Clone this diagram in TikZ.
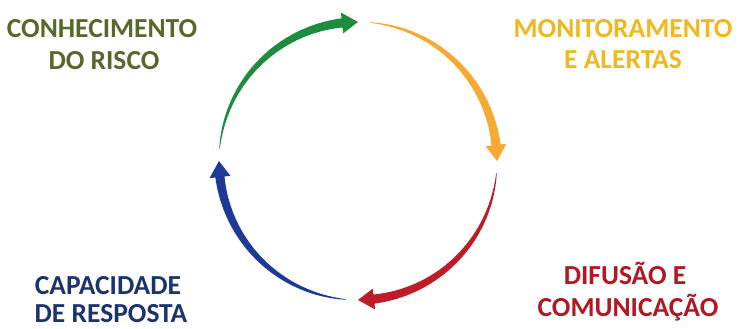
\documentclass[tikz,border=0pt]{standalone}
\usepackage{fontspec}
\setmainfont{Carlito}
\definecolor{cgreen}{RGB}{30,140,62}
\definecolor{corange}{RGB}{245,170,52}
\definecolor{cred}{RGB}{190,28,40}
\definecolor{cblue}{RGB}{30,58,150}
\definecolor{tgreen}{RGB}{88,104,42}
\definecolor{tyellow}{RGB}{238,184,30}
\definecolor{tred}{RGB}{178,24,36}
\definecolor{tblue}{RGB}{28,52,110}
\tikzset{lbl/.style={anchor=base,inner sep=0pt,font=\fontsize{27.5}{32}\selectfont\bfseries}}
\newcommand\taparrow[3]{% colour, start angle, tip angle (clockwise)
  \pgfmathsetmacro\hb{#3+6.6}
  \fill[#1] plot[domain=#2:\hb,samples=60,variable=\t]
      ({\cx+(\rr+0.2+4.4*((#2-\t)/(#2-\hb))^0.8)*cos(\t)},{\cy+(\rr+0.2+4.4*((#2-\t)/(#2-\hb))^0.8)*sin(\t)})
    -- ({\cx+(\rr+10.5)*cos(\hb)},{\cy+(\rr+10.5)*sin(\hb)})
    -- ({\cx+\rr*cos(#3)},{\cy+\rr*sin(#3)})
    -- ({\cx+(\rr-10.5)*cos(\hb)},{\cy+(\rr-10.5)*sin(\hb)})
    -- plot[domain=\hb:#2,samples=60,variable=\t]
      ({\cx+(\rr-0.2-4.4*((#2-\t)/(#2-\hb))^0.8)*cos(\t)},{\cy+(\rr-0.2-4.4*((#2-\t)/(#2-\hb))^0.8)*sin(\t)})
    -- cycle;
}
\begin{document}
\begin{tikzpicture}[x=1pt,y=1pt]
\useasboundingbox (0,0) rectangle (740,329);
\def\cx{358}\def\cy{168}\def\rr{139}
\taparrow{cgreen}{175}{90}
\taparrow{corange}{85}{0}
\taparrow{cred}{-5}{-90}
\taparrow{cblue}{265}{180}
\node[lbl,text=tgreen] (k1) at (102,291) {CONHECIMENTO};
\node[lbl,text=tgreen] (k2) at (104,259) {DO RISCO};
\node[lbl,text=tyellow] (m1) at (623,291) {MONITORAMENTO};
\node[lbl,text=tyellow] (m2) at (623,260) {E ALERTAS};
\node[lbl,text=tred] (d1) at (625,44) {DIFUSÃO E};
\node[lbl,text=tred] (d2) at (628,12) {COMUNICAÇÃO};
\node[lbl,text=tblue] (c1) at (108,34) {CAPACIDADE};
\node[lbl,text=tblue] (c2) at (111,6) {DE RESPOSTA};
\end{tikzpicture}
\end{document}
